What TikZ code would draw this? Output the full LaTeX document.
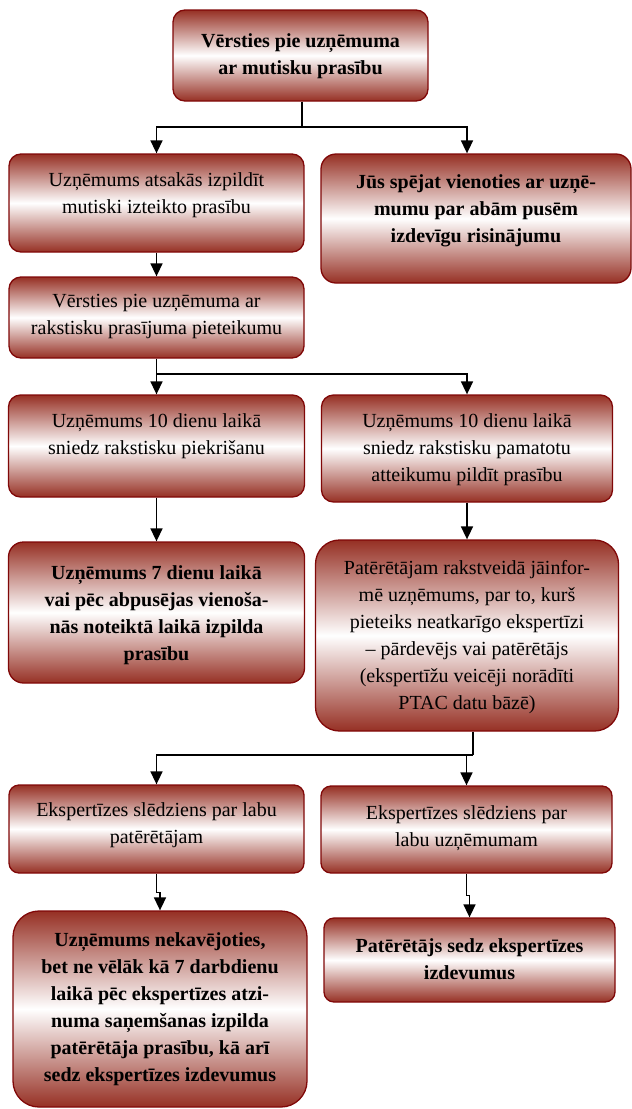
\documentclass[tikz,border=0pt]{standalone}
\usepackage{fontspec}
\setmainfont{Liberation Serif}
\usetikzlibrary{arrows.meta}
\definecolor{gred}{RGB}{150,48,36}
\definecolor{bred}{RGB}{128,8,8}
\begin{document}
\begin{tikzpicture}[x=1pt,y=-1pt,
  box/.style={draw=bred, line width=1.3pt, top color=gred, bottom color=gred, middle color=white, rounded corners=12pt, inner sep=0pt},
  txt/.style={align=center, font=\fontsize{20}{27}\selectfont, inner sep=0pt},
  btxt/.style={align=center, font=\fontsize{20}{27}\selectfont\bfseries, inner sep=0pt},
  arr/.style={line width=1.6pt, -{Triangle[width=12pt,length=13pt]}},
  ln/.style={line width=1.6pt}]
\useasboundingbox (0,0) rectangle (632,1109);

% boxes
\node[box, minimum width=255pt, minimum height=91pt] (b1) at (300.5,55.5) {};
\node[btxt] (b1t) at (300.5,56.5) {Vērsties pie uzņēmuma\\ar mutisku prasību};

\node[box, minimum width=295pt, minimum height=98pt] (b2) at (156.5,203) {};
\node[txt] (b2t) at (156.5,195.5) {Uzņēmums atsakās izpildīt\\mutiski izteikto prasību};

\node[box, minimum width=310pt, minimum height=129pt, rounded corners=15pt] (bj) at (476,218.5) {};
\node[btxt] (bjt) at (476,211) {Jūs spējat vienoties ar uzņē-\\mumu par abām pusēm\\izdevīgu risinājumu};

\node[box, minimum width=295pt, minimum height=81pt] (b3) at (156.5,317.5) {};
\node[txt] (b3t) at (156.5,316.5) {Vērsties pie uzņēmuma ar\\rakstisku prasījuma pieteikumu};

\node[box, minimum width=296pt, minimum height=102pt] (b4) at (156.5,446) {};
\node[txt] (b4t) at (156.5,436.5) {Uzņēmums 10 dienu laikā\\sniedz rakstisku piekrišanu};

\node[box, minimum width=291pt, minimum height=107pt] (b5) at (467,448.5) {};
\node[txt] (b5t) at (467,450) {Uzņēmums 10 dienu laikā\\sniedz rakstisku pamatotu\\atteikumu pildīt prasību};

\node[box, minimum width=296pt, minimum height=141pt, rounded corners=15pt] (b6) at (156.5,612.5) {};
\node[btxt] (b6t) at (156.5,615) {Uzņēmums 7 dienu laikā\\vai pēc abpusējas vienoša-\\nās noteiktā laikā izpilda\\prasību};

\node[box, minimum width=303pt, minimum height=191pt, rounded corners=24pt] (b7) at (467,635.5) {};
\node[txt] (b7t) at (467,637.5) {Patērētājam rakstveidā jāinfor-\\mē uzņēmums, par to, kurš\\pieteiks neatkarīgo ekspertīzi\\– pārdevējs vai patērētājs\\(ekspertīžu veicēji norādīti\\PTAC datu bāzē)};

\node[box, minimum width=295pt, minimum height=88pt, rounded corners=10pt] (b8) at (156.5,829) {};
\node[txt] (b8t) at (156.5,825) {Ekspertīzes slēdziens par labu\\patērētājam};

\node[box, minimum width=291pt, minimum height=87pt, rounded corners=10pt] (b9) at (466.5,829.5) {};
\node[txt] (b9t) at (466.5,828) {Ekspertīzes slēdziens par\\labu uzņēmumam};

\node[box, minimum width=294pt, minimum height=196pt, rounded corners=26pt] (b10) at (160,1009) {};
\node[btxt] (b10t) at (160,1009) {Uzņēmums nekavējoties,\\bet ne vēlāk kā 7 darbdienu\\laikā pēc ekspertīzes atzi-\\numa saņemšanas izpilda\\patērētāja prasību, kā arī\\sedz ekspertīzes izdevumus};

\node[box, minimum width=291pt, minimum height=84pt, rounded corners=10pt] (b11) at (469.5,960) {};
\node[btxt] (b11t) at (469.5,959) {Patērētājs sedz ekspertīzes\\izdevumus};

% connectors
\coordinate (j1) at (302,127);
\draw[ln] (b1.south -| j1) -- (j1);
\draw[arr] (j1) -| (b2.north);
\draw[arr] (j1) -| ([xshift=-9pt]bj.north);

\draw[arr] (b2.south) -- (b3.north);

\coordinate (j2) at (156.5,374);
\draw[arr] (b3.south) -- (b4.north);
\draw[arr] (j2) -| (b5.north);

\draw[arr] (b4.south) -- (b6.north);
\draw[arr] (b5.south) -- (b7.north);

\coordinate (j3) at (473,755);
\draw[ln] (b7.south -| j3) -- (j3);
\draw[arr] (j3) -| (b8.north);
\draw[arr] (j3 -| b9.north) -- (b9.north);

\draw[arr] (b8.south) -- ++(0,19) -| (b10.north);
\draw[arr] (b9.south) -- ++(0,22) -| (b11.north);
\end{tikzpicture}
\end{document}
